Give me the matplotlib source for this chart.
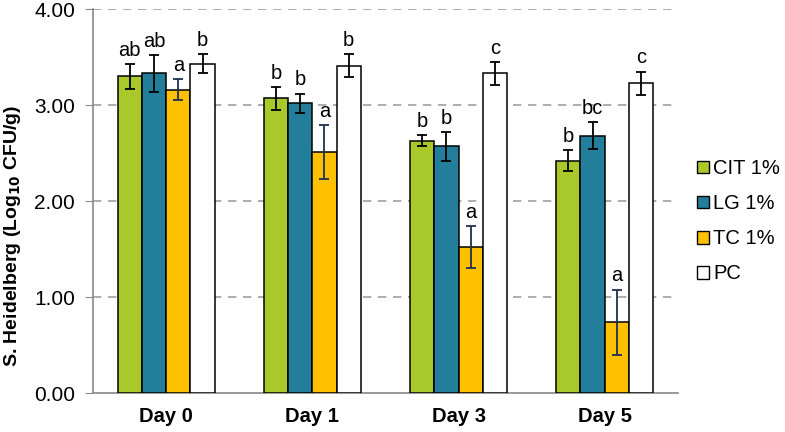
import matplotlib.pyplot as plt
import numpy as np
from matplotlib.patches import Patch

plt.rcParams['font.family'] = ['Liberation Sans', 'DejaVu Sans']

days = ['Day 0', 'Day 1', 'Day 3', 'Day 5']
series = ['CIT 1%', 'LG 1%', 'TC 1%', 'PC']
colors = ['#a9c92a', '#237e9c', '#ffc000', '#ffffff']
err_colors = ['black', 'black', '#1f2f4f', 'black']

cit = [3.30, 3.07, 2.63, 2.42]
lg = [3.33, 3.02, 2.57, 2.68]
tc = [3.16, 2.51, 1.52, 0.74]
pc = [3.43, 3.41, 3.33, 3.23]

cit_err = [0.13, 0.12, 0.06, 0.11]
lg_err = [0.19, 0.10, 0.15, 0.14]
tc_err = [0.11, 0.28, 0.22, 0.34]
pc_err = [0.10, 0.12, 0.12, 0.12]

cit_lab = ['ab', 'b', 'b', 'b']
lg_lab = ['ab', 'b', 'b', 'bc']
tc_lab = ['a', 'a', 'a', 'a']
pc_lab = ['b', 'b', 'c', 'c']

values = [cit, lg, tc, pc]
errors = [cit_err, lg_err, tc_err, pc_err]
labels = [cit_lab, lg_lab, tc_lab, pc_lab]

fig = plt.figure(figsize=(7.85, 4.32), dpi=100)
ax = fig.add_axes([0.1185, 0.0896, 0.745, 0.8894])

x = np.arange(len(days))
w = 0.166
for i in range(4):
    pos = x + (i - 1.5) * w
    ax.bar(pos, values[i], w, color=colors[i], edgecolor='black', linewidth=1.1, zorder=3)
    ax.errorbar(pos, values[i], yerr=errors[i], fmt='none', ecolor=err_colors[i],
                elinewidth=1.3, capsize=3.3, capthick=1.3, zorder=4)
    for p, v, e, t in zip(pos, values[i], errors[i], labels[i]):
        ax.text(p, v + e + 0.085, t, ha='center', va='baseline', fontsize=14.5, zorder=5)

ax.set_xlim(-0.5, 3.5)
ax.set_ylim(0, 4)
ax.set_yticks([0, 1, 2, 3, 4])
ax.set_yticklabels(['0.00', '1.00', '2.00', '3.00', '4.00'], fontsize=15)
ax.set_xticks(x)
ax.set_xticklabels(days, fontsize=14.5, fontweight='bold')
ax.tick_params(axis='x', length=0, pad=10)
ax.tick_params(axis='y', length=6, color='#888888', pad=7)

fig.text(0.016, 0.454, 'S. Heidelberg (Log$_{\\mathbf{10}}$ CFU/g)', rotation=90,
         ha='center', va='center', fontsize=14, fontweight='bold')

for yv in [1, 2, 3, 4]:
    ax.axhline(yv, color='#a0a0a0', linestyle=(0, (5, 4)), linewidth=1.2, zorder=1)

for s in ['top', 'right']:
    ax.spines[s].set_visible(False)
ax.spines['left'].set_color('#888888')
ax.spines['bottom'].set_color('#888888')
ax.spines['left'].set_linewidth(1.2)
ax.spines['bottom'].set_linewidth(1.2)

handles = [Patch(facecolor=c, edgecolor='black', linewidth=1.0) for c in colors]
fig.legend(handles, series, loc='center left', bbox_to_anchor=(0.888, 0.488),
           frameon=False, fontsize=14.5, handlelength=0.6, handleheight=0.6,
           handletextpad=0.2, labelspacing=0.8, borderpad=0, borderaxespad=0)

fig.savefig('out.png', dpi=100)
